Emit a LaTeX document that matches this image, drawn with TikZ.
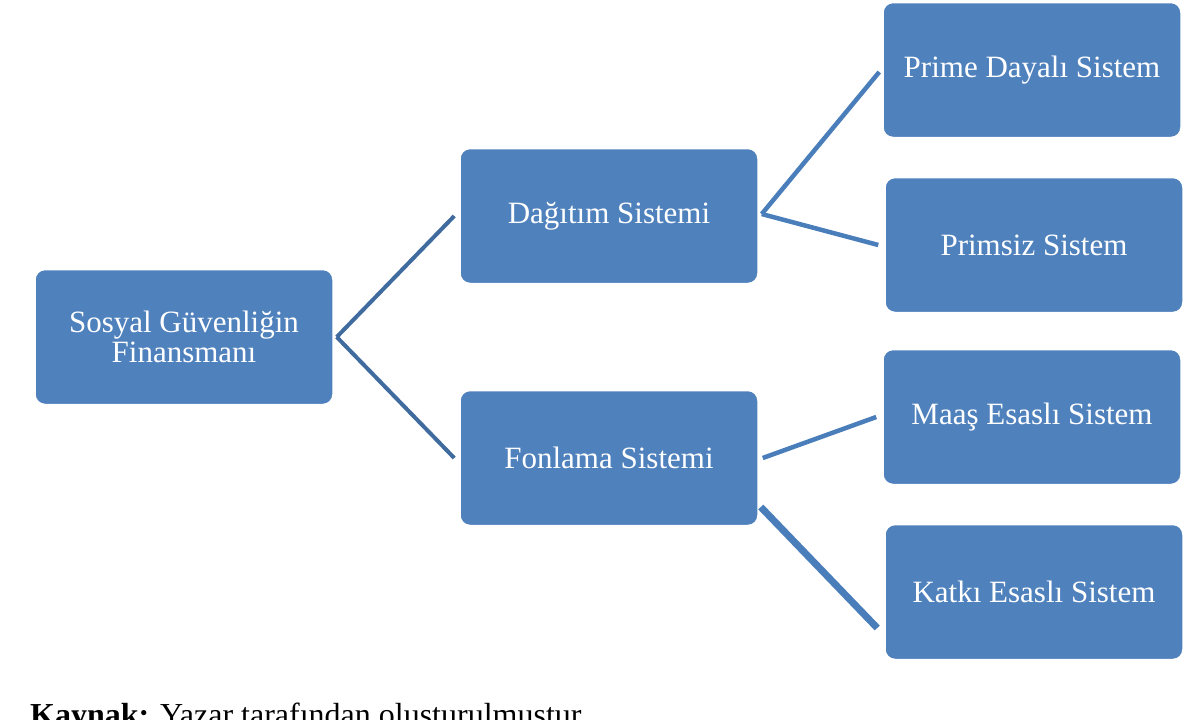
\documentclass[tikz,border=0pt]{standalone}
\usepackage{fontspec}
\setmainfont{Liberation Serif}
\definecolor{boxblue}{HTML}{4F81BD}
\definecolor{linedark}{HTML}{3F6B9F}
\definecolor{linelight}{HTML}{4A7EBB}
\tikzset{
  kutu/.style={rectangle, rounded corners=10pt, fill=boxblue, draw=white,
    line width=1.5pt, minimum width=298pt, minimum height=135pt,
    text=white, align=center, font=\fontsize{31}{30}\selectfont},
  bag/.style={draw=linedark, line width=4pt},
  altbag/.style={draw=linelight, line width=4.5pt}
}
\begin{document}
\begin{tikzpicture}[x=1pt,y=-1pt]
      \useasboundingbox (0,0) rectangle (1187,720);
      \draw
        (184,337) node[kutu] (root){Sosyal Güvenliğin\\Finansmanı}
        (609,216) node[kutu] (dag){Dağıtım Sistemi}
        (609,458) node[kutu] (fon){Fonlama Sistemi}
        (1032,70) node[kutu] (prim){Prime Dayalı Sistem}
        (1034,245) node[kutu] (primsiz){Primsiz Sistem}
        (1032,417) node[kutu] (maas){Maaş Esaslı Sistem}
        (1034,592) node[kutu] (katki){Katkı Esaslı Sistem};
      \begin{scope}[bag]
        \draw ([xshift=3pt]root.east) to ([xshift=-5pt]dag.west);
        \draw ([xshift=3pt]root.east) to ([xshift=-5pt]fon.west);
      \end{scope}
      \begin{scope}[altbag]
        \draw ([xshift=3pt,yshift=2pt]dag.east) to ([xshift=-3pt,yshift=-2pt]prim.west);
        \draw ([xshift=3pt,yshift=2pt]dag.east) to ([xshift=-6pt]primsiz.west);
        \draw ([xshift=4pt]fon.east) to ([xshift=-6pt]maas.west);
        \draw[line width=7pt] ([xshift=2pt,yshift=-49pt]fon.east) to ([xshift=-7pt,yshift=-36pt]katki.west);
      \end{scope}
      \node[anchor=base west, font=\fontsize{32}{32}\selectfont, inner sep=0pt]
        (kaynak) at (30,725) {\textbf{Kaynak:} Yazar tarafından oluşturulmuştur};
    \end{tikzpicture}
\end{document}
